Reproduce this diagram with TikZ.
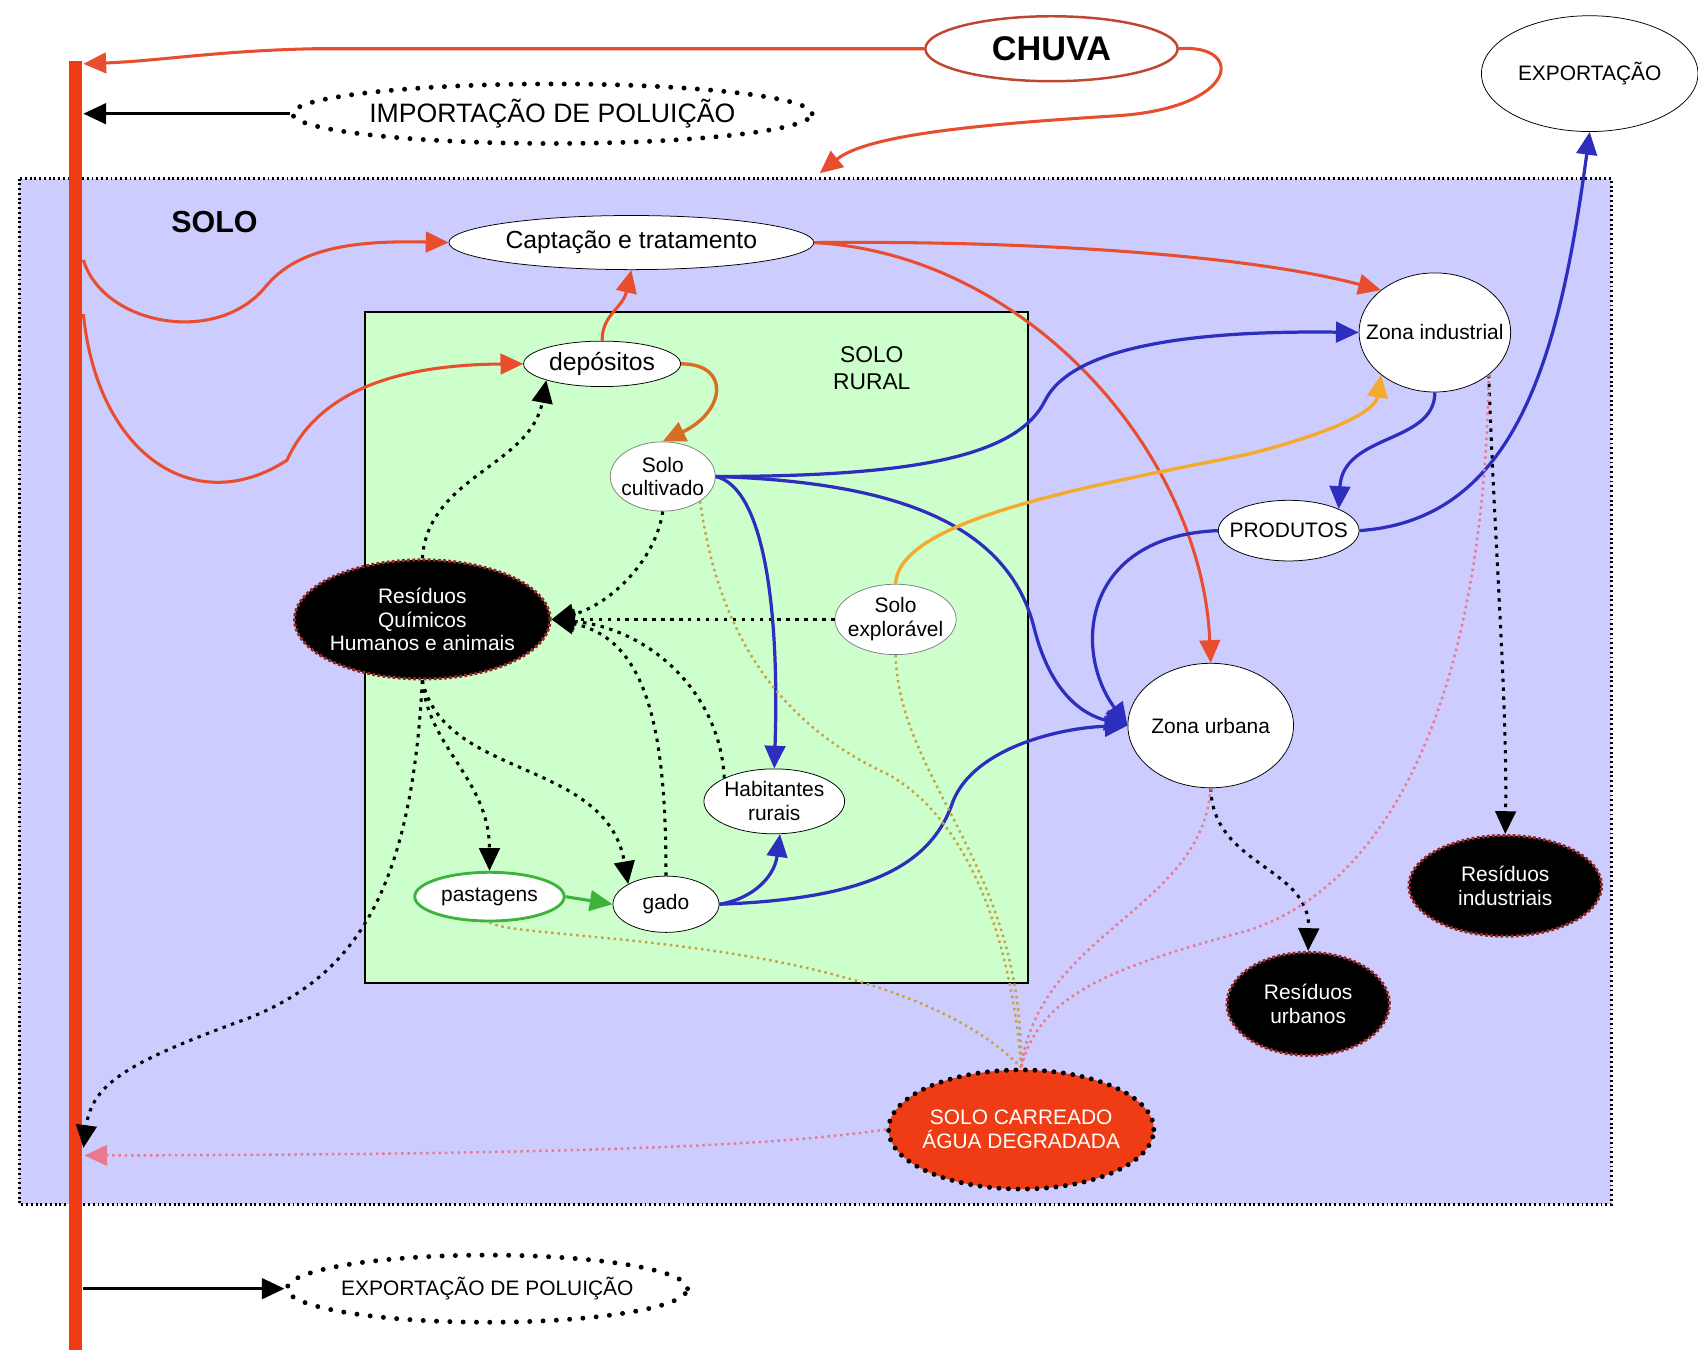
\documentclass[tikz,border=0pt]{standalone}
\usepackage{fontspec}
\setmainfont{Liberation Sans}
\usetikzlibrary{arrows.meta}
\usetikzlibrary{shapes.geometric}
\definecolor{lavanda}{RGB}{204, 204, 255}
\definecolor{verdeclaro}{RGB}{204, 255, 204}
\definecolor{vermelho}{RGB}{240, 60, 20}
\definecolor{linhavermelha}{RGB}{232, 78, 45}
\definecolor{chuvared}{RGB}{190, 70, 50}
\definecolor{azulfluxo}{RGB}{45, 45, 190}
\definecolor{laranja}{RGB}{245, 170, 45}
\definecolor{marrom}{RGB}{215, 110, 35}
\definecolor{ocre}{RGB}{200, 160, 70}
\definecolor{rosa}{RGB}{235, 120, 140}
\definecolor{verdefluxo}{RGB}{60, 180, 60}
\definecolor{bordaresiduo}{RGB}{150, 40, 40}

\begin{document}
\begin{tikzpicture}[x = 0.02cm, y = -0.02cm,
	seta/.style = {-{Triangle[length = 0.42cm, width = 0.38cm]}},
	caixa/.style = {ellipse, draw, inner ysep = 0pt, inner xsep = -0.35cm, fill = white, align = center, font = \fontsize{11}{12.5}\selectfont},
	residuo/.style = {caixa, fill = black, text = white, draw = bordaresiduo, line width = 1.6pt, dash pattern = on 1.5pt off 1.2pt},
	poluicao/.style = {caixa, line width = 2.6pt, line cap = round, dash pattern = on 0pt off 7pt},
	fluxovermelho/.style = {seta, draw = linhavermelha, line width = 1.6pt},
	fluxomarrom/.style = {seta, draw = marrom, line width = 1.8pt},
	fluxoazul/.style = {seta, draw = azulfluxo, line width = 1.7pt},
	fluxolaranja/.style = {seta, draw = laranja, line width = 1.8pt},
	fluxoverde/.style = {seta, draw = verdefluxo, line width = 1.6pt},
	fluxopreto/.style = {seta, draw = black, line width = 1.7pt},
	pontilhado/.style = {seta, draw = black, line width = 1.6pt, dash pattern = on 1.8pt off 2.9pt},
	pontocre/.style = {draw = ocre, line width = 1.3pt, dash pattern = on 1.3pt off 2pt},
	pontorosa/.style = {draw = rosa, line width = 1.3pt, dash pattern = on 1.3pt off 2pt}]
			\useasboundingbox (0,0) rectangle (1568,1247);
			\fill [white] (0,0) rectangle (1568,1247);
			\draw [fill = lavanda, line width = 1.5pt, dash pattern = on 1pt off 1.5pt] (18,165) rectangle (1488,1112);
			\draw [fill = verdeclaro, line width = 1pt] (337,288) rectangle (949,908);
			\draw [line width = 0.24cm, vermelho] (70,56) -- (70,1247);
			\coordinate (bartop) at (77,59);
			\coordinate (barimp) at (77,105);
			\coordinate (barcapt) at (77,240);
			\coordinate (bardepo) at (77,290);
			\coordinate (barres) at (77,1060);
			\coordinate (barsolo) at (78,1067);
			\coordinate (barexp) at (77,1190);
			\coordinate (chuvasolo) at (757,160);
			\node (solo) at (198,205) [font = \bfseries\fontsize{16}{18}\selectfont] {SOLO};
			\node (rural) at (805,340) [align = center, font = \fontsize{12}{14}\selectfont] {SOLO\\RURAL};
			\node (chuva) at (971,45) [caixa, draw = chuvared, line width = 1.3pt, minimum width = 4.66cm, minimum height = 1.2cm, font = \bfseries\fontsize{18}{20}\selectfont] {CHUVA};
			\node (impo) at (510,105) [poluicao, minimum width = 9.6cm, minimum height = 1.1cm, font = \fontsize{14}{16}\selectfont] {IMPORTAÇÃO DE POLUIÇÃO};
			\node (expo) at (450,1190) [poluicao, minimum width = 7.4cm, minimum height = 1.24cm] {EXPORTAÇÃO DE POLUIÇÃO};
			\node (expt) at (1468,68) [caixa, minimum width = 4cm, minimum height = 2.14cm] {EXPORTAÇÃO};
			\node (capt) at (583,224) [caixa, minimum width = 6.74cm, minimum height = 1cm, font = \fontsize{13}{15}\selectfont] {Captação e tratamento};
			\node (depo) at (556,336) [caixa, minimum width = 2.9cm, minimum height = 0.84cm, font = \fontsize{13}{15}\selectfont] {depósitos};
			\node (solocult) at (612,440) [caixa, draw = gray, minimum width = 1.94cm, minimum height = 1.28cm] {Solo\\cultivado};
			\node (residuos) at (390,572) [residuo, minimum width = 4.72cm, minimum height = 2.2cm] {Resíduos\\Químicos\\Humanos e animais};
			\node (soloexpl) at (827,572) [caixa, draw = gray, minimum width = 2.24cm, minimum height = 1.3cm] {Solo\\explorável};
			\node (habit) at (715,740) [caixa, minimum width = 2.6cm, minimum height = 1.2cm] {Habitantes\\rurais};
			\node (pasto) at (452,828) [caixa, draw = verdefluxo, line width = 1.5pt, minimum width = 2.76cm, minimum height = 0.9cm] {pastagens};
			\node (gado) at (615,835) [caixa, minimum width = 1.96cm, minimum height = 1.04cm] {gado};
			\node (zind) at (1325,307) [caixa, minimum width = 2.8cm, minimum height = 2.2cm] {Zona industrial};
			\node (prod) at (1190,490) [caixa, minimum width = 2.6cm, minimum height = 1.12cm] {PRODUTOS};
			\node (zurb) at (1118,670) [caixa, minimum width = 3.06cm, minimum height = 2.3cm] {Zona urbana};
			\node (resind) at (1390,818) [residuo, minimum width = 3.56cm, minimum height = 1.86cm] {Resíduos\\industriais};
			\node (resurb) at (1208,927) [residuo, minimum width = 3cm, minimum height = 1.9cm] {Resíduos\\urbanos};
			\node (carreado) at (943,1043) [caixa, fill = vermelho, text = white, line width = 2.6pt, line cap = round, dash pattern = on 0pt off 5pt, minimum width = 4.9cm, minimum height = 2.2cm] {SOLO CARREADO\\ÁGUA DEGRADADA};
			\draw [fluxovermelho] (chuva.west) -- (290,45) .. controls (200,47) and (150,56) .. (bartop);
			\draw [fluxovermelho] (chuva.east) .. controls (1150,40) and (1145,100) .. (1030,107) .. controls (900,115) and (800,125) .. (chuvasolo);
			\draw [fluxovermelho] (barcapt) .. controls (95,300) and (200,320) .. (245,265) .. controls (275,228) and (330,222) .. (capt.west);
			\draw [fluxovermelho] (bardepo) .. controls (90,420) and (180,480) .. (265,425) .. controls (290,370) and (350,337) .. (depo.west);
			\draw [fluxovermelho] (capt.east) .. controls (950,222) and (1150,235) .. (zind.north west);
			\draw [fluxovermelho] (capt.east) .. controls (950,235) and (1110,420) .. (zurb.north);
			\draw [fluxovermelho] (depo.north) .. controls (556,290) and (575,285) .. (capt.south);
			\draw [fluxomarrom] (depo.east) .. controls (675,336) and (670,380) .. (solocult.north);
			\draw [fluxopreto] (impo.west) -- (barimp);
			\draw [fluxopreto] (barexp) -- (expo.west);
			\draw [pontilhado] (residuos.north) .. controls (395,440) and (490,430) .. (depo.south west);
			\draw [pontilhado] (solocult.south) .. controls (605,520) and (560,560) .. (residuos.east);
			\draw [pontilhado] (soloexpl.west) -- (residuos.east);
			\draw [pontilhado] (habit.north west) .. controls (665,640) and (600,580) .. (residuos.east);
			\draw [pontilhado] (gado.north) .. controls (615,680) and (600,590) .. (residuos.east);
			\draw [pontilhado] (residuos.south) .. controls (395,690) and (452,720) .. (pasto.north);
			\draw [pontilhado] (residuos.south) .. controls (410,720) and (560,700) .. (gado.north west);
			\draw [pontilhado] (residuos.south) .. controls (380,820) and (330,900) .. (230,940) .. controls (120,980) and (85,1000) .. (barres);
			\draw [pontilhado] (zurb.south) .. controls (1120,800) and (1210,800) .. (resurb.north);
			\draw [pontilhado] (zind.south east) .. controls (1380,500) and (1392,650) .. (resind.north);
			\draw [fluxoazul] (solocult.east) .. controls (850,440) and (940,420) .. (965,370) .. controls (990,320) and (1100,305) .. (zind.west);
			\draw [fluxoazul] (solocult.east) .. controls (820,445) and (930,480) .. (955,580) .. controls (970,640) and (1000,660) .. (zurb.west);
			\draw [fluxoazul] (solocult.east) .. controls (705,450) and (720,560) .. (habit.north);
			\draw [fluxoazul] (gado.east) .. controls (695,830) and (715,810) .. (habit.-80);
			\draw [fluxoazul] (gado.east) .. controls (800,830) and (860,800) .. (880,740) .. controls (900,690) and (980,672) .. (zurb.west);
			\draw [fluxoazul] (zind.south) .. controls (1325,410) and (1240,400) .. (prod.north east);
			\draw [fluxoazul] (prod.east) .. controls (1400,480) and (1440,330) .. (expt.south);
			\draw [fluxoazul] (prod.west) .. controls (1000,495) and (990,600) .. (zurb.west);
			\draw [fluxolaranja] (soloexpl.north) .. controls (830,480) and (1000,450) .. (1150,420) .. controls (1230,400) and (1270,380) .. (zind.south west);
			\draw [fluxoverde] (pasto.east) -- (gado.west);
			\draw [pontocre] (solocult.south east) .. controls (660,560) and (700,660) .. (820,715) .. controls (900,760) and (935,880) .. (carreado.north);
			\draw [pontocre] (soloexpl.south) .. controls (830,720) and (945,800) .. (carreado.north);
			\draw [pontocre] (pasto.south) .. controls (480,870) and (820,860) .. (carreado.north);
			\draw [pontorosa] (zurb.south) .. controls (1110,840) and (960,860) .. (carreado.north);
			\draw [pontorosa] (zind.south east) .. controls (1370,650) and (1280,820) .. (1150,860) .. controls (1020,895) and (960,920) .. (carreado.north);
			\draw [pontorosa, seta] (carreado.west) .. controls (700,1060) and (500,1066) .. (barsolo);
			\end{tikzpicture}
\end{document}
